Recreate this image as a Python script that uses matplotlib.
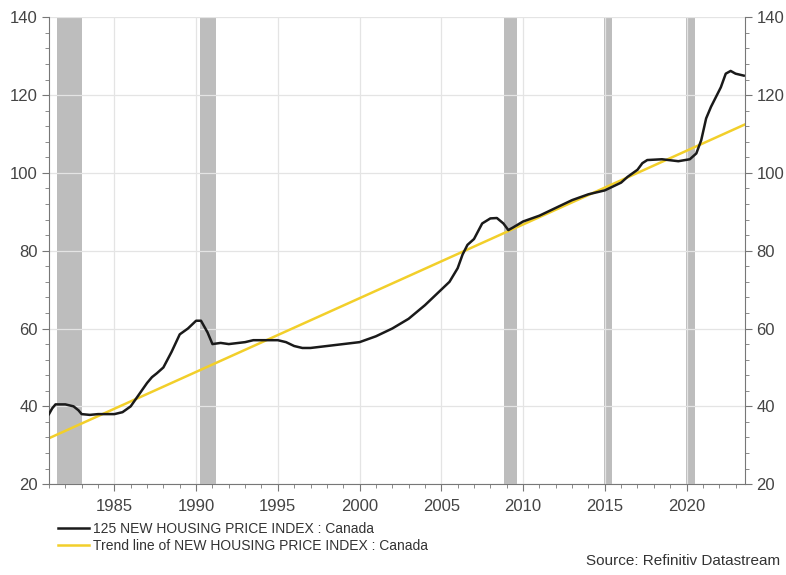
import matplotlib.pyplot as plt
import numpy as np
from matplotlib.ticker import MultipleLocator

plt.rcParams["font.family"] = ["Liberation Sans", "DejaVu Sans"]

# --- Data ---
years = [1981.0, 1981.2, 1981.4, 1982.0, 1982.5, 1982.8, 1983.0, 1983.5, 1984.0,
         1985.0, 1985.5, 1986.0, 1986.5, 1987.0, 1987.3, 1987.6, 1988.0, 1988.5,
         1989.0, 1989.5, 1990.0, 1990.3, 1990.7, 1991.0, 1991.5, 1992.0, 1993.0,
         1993.5, 1994.0, 1995.0, 1995.5, 1996.0, 1996.5, 1997.0, 1998.0, 1999.0,
         2000.0, 2001.0, 2002.0, 2003.0, 2004.0, 2005.0, 2005.5, 2006.0, 2006.3,
         2006.6, 2007.0, 2007.5, 2008.0, 2008.4, 2008.8, 2009.1, 2009.4, 2010.0,
         2011.0, 2012.0, 2013.0, 2014.0, 2015.0, 2015.5, 2016.0, 2016.4, 2017.0,
         2017.3, 2017.6, 2018.5, 2019.5, 2020.2, 2020.6, 2020.9, 2021.2, 2021.5,
         2021.8, 2022.1, 2022.4, 2022.7, 2023.0, 2023.5]
index = [38.0, 39.5, 40.5, 40.5, 40.0, 39.0, 38.0, 37.8, 38.0,
         38.0, 38.5, 40.0, 43.0, 46.0, 47.5, 48.5, 50.0, 54.0,
         58.5, 60.0, 62.0, 62.0, 59.0, 56.0, 56.3, 56.0, 56.5,
         57.0, 57.0, 57.0, 56.5, 55.5, 55.0, 55.0, 55.5, 56.0,
         56.5, 58.0, 60.0, 62.5, 66.0, 70.0, 72.0, 75.5, 79.0,
         81.5, 83.0, 87.0, 88.3, 88.4, 87.0, 85.3, 86.0, 87.5,
         89.0, 91.0, 93.0, 94.5, 95.5, 96.5, 97.5, 99.0, 100.8,
         102.5, 103.3, 103.5, 103.0, 103.5, 105.0, 108.4, 114.0, 117.0,
         119.5, 122.0, 125.5, 126.2, 125.5, 125.0]

trend_years = [1981.0, 2023.6]
trend_vals = [31.8, 112.5]

recessions = [(1981.5, 1983.0), (1990.25, 1991.2), (2008.85, 2009.65),
              (2014.95, 2015.45), (2019.95, 2020.5)]

x_ticks = [1985, 1990, 1995, 2000, 2005, 2010, 2015, 2020]
y_ticks = [20, 40, 60, 80, 100, 120, 140]


def main() -> None:
    fig = plt.figure(figsize=(7.86, 5.75), dpi=100)
    ax = fig.add_axes([0.0623, 0.158, 0.886, 0.812])

    for start, end in recessions:
        ax.axvspan(start, end, color="#bdbdbd", lw=0, zorder=1)

    ax.plot(years, index, color="#1a1a1a", lw=1.8, zorder=3,
            label="125 NEW HOUSING PRICE INDEX : Canada")
    ax.plot(trend_years, trend_vals, color="#f2cf2a", lw=1.8, zorder=2,
            label="Trend line of NEW HOUSING PRICE INDEX : Canada")

    ax.set_xlim(1981.0, 2023.6)
    ax.set_ylim(20, 140)
    ax.set_xticks(x_ticks)
    ax.set_yticks(y_ticks)
    ax.xaxis.set_minor_locator(MultipleLocator(1))
    ax.yaxis.set_minor_locator(MultipleLocator(4))
    ax.grid(True, which="major", color="#e4e4e4", lw=0.9, zorder=0)

    ax.tick_params(axis="both", which="both", colors="#777777", labelcolor="#444444",
                   labelsize=12, direction="out")
    ax.tick_params(axis="y", which="both", left=True, right=True,
                   labelleft=True, labelright=True)
    ax.tick_params(which="major", length=5)
    ax.tick_params(which="minor", length=3)
    ax.tick_params(axis="x", pad=6)
    ax.tick_params(axis="y", pad=3)

    ax.spines["top"].set_visible(False)
    for side in ["left", "right", "bottom"]:
        ax.spines[side].set_color("#777777")

    fig.legend(loc="upper left", bbox_to_anchor=(0.062, 0.109), frameon=False,
               fontsize=10, handlelength=2.2, handletextpad=0.3, labelspacing=0.2,
               labelcolor="#333333", borderpad=0.2)
    fig.text(0.992, 0.012, "Source: Refinitiv Datastream", ha="right", va="bottom",
             fontsize=11, color="#333333")

    fig.savefig("out.png", dpi=100)
    plt.close(fig)


if __name__ == "__main__":
    main()
